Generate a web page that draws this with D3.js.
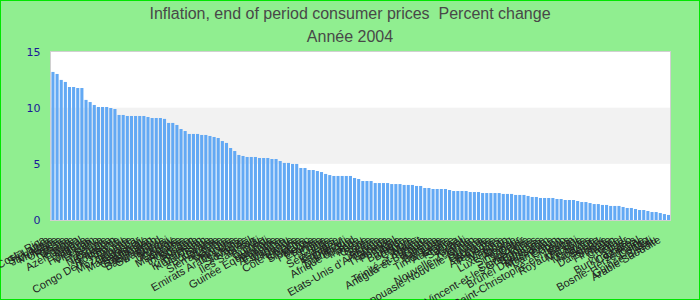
<!DOCTYPE html>
<html><head><meta charset="utf-8">
<script src="https://cdn.jsdelivr.net/npm/d3@7"></script>
<style>html,body{margin:0;padding:0;background:#90EE90;}svg{display:block;}</style>
</head><body>
<svg id="chart" width="700" height="300"></svg>
<script>
const titleText = "Inflation, end of period consumer prices  Percent change";
const subtitleText = "Année 2004";
const yTicks = [0, 5, 10, 15];
const countries = [
"Costa Rica","Sri Lanka","Jamaïque","Moldavie","Ukraine","Russie","Ghana","Egypte","Azerbaïdjan","Népal",
"Nigeria","Honduras","Viet Nam","Lesotho","Kenya","Tanzanie","Nicaragua","Pakistan","Roumanie","Congo Dém. Rép. du",
"Turquie","Mozambique","Ouganda","Madagascar","Paraguay","Guatemala","Tadjikistan","Bangladesh","Swaziland","Bolivie",
"Malawi","Uruguay","Géorgie","Mauritanie","Arménie","Indonésie","Soudan","Rwanda","Kirghizistan","Kazakhstan",
"Tonga","Botswana","Namibie","Sierra Leone","Gambie","Mexique","Hongrie","Emirats Arabes Unis","Lettonie","Slovaquie",
"Brésil","Iles Salomon","Fidji","Guinée","Burundi","Guinée Equatoriale","Ethiopie","Argentine","Colombie","Vanuatu",
"Islande","Côte d'Ivoire","Lituanie","Slovénie","Maroc","Pologne","Estonie","Tunisie","Chine","Inde",
"Seychelles","Espagne","Equateur","Djibouti","Dominique","Afrique du Sud","Irlande","Pérou","Grèce","Corée",
"Belize","Algérie","Etats-Unis d'Amérique","Canada","Thaïlande","Portugal","Italie","Barbade","Bahreïn","Chypre",
"Malte","Koweït","Trinité-et-Tobago","Antigua-et-Barbuda","Libéria","Panama","Belgique","Timor-Leste","Australie","France",
"Samoa","Israël","Kiribati","Nouvelle-Zélande","Oman","Papouasie-Nouvelle-Guinée","Guyana","Grenade","Autriche","Allemagne",
"Pays-Bas","Maurice","Liban","Luxembourg","Albanie","Singapour","Qatar","Jordanie","Sainte-Lucie","Saint-Vincent-et-les Grenadines",
"Bahamas","Suriname","Brunéi Darussalam","Macédoine","Cameroun","Gabon","Togo","Saint-Christophe-et-Niévès","Bénin","Royaume-Uni",
"Malaisie","Syrie","Maldives","Norvège","Suède","Danemark","Suisse","Finlande","Japon","Croatie",
"Tchad","Niger","Burkina Faso","Comores","Sénégal","Bosnie-Herzégovine","Congo","Mali","Guinée-Bissau","Arabie Saoudite"
];
const inflation = [
13.18,13.0,12.47,12.29,11.84,11.84,11.75,11.75,10.69,10.5,
10.24,10.06,10.06,10.06,9.97,9.88,9.35,9.35,9.26,9.26,
9.26,9.26,9.26,9.17,9.08,9.08,9.08,9.0,8.64,8.64,
8.46,8.1,7.92,7.66,7.66,7.66,7.57,7.57,7.48,7.39,
7.3,7.03,6.86,6.41,6.14,5.79,5.7,5.61,5.61,5.61,
5.52,5.52,5.52,5.43,5.43,5.25,5.08,5.08,4.99,4.99,
4.63,4.63,4.45,4.45,4.36,4.27,4.1,4.0,3.92,3.92,
3.92,3.92,3.92,3.74,3.65,3.47,3.47,3.47,3.29,3.29,
3.29,3.29,3.2,3.2,3.2,3.12,3.12,3.12,3.03,3.03,
2.85,2.85,2.76,2.76,2.76,2.76,2.67,2.58,2.58,2.58,
2.58,2.49,2.49,2.49,2.4,2.4,2.4,2.4,2.4,2.32,
2.32,2.32,2.23,2.23,2.23,2.14,2.05,2.05,1.96,1.96,
1.96,1.96,1.87,1.87,1.78,1.78,1.78,1.69,1.6,1.6,
1.51,1.42,1.42,1.34,1.34,1.25,1.25,1.25,1.16,1.07,
1.07,0.98,0.89,0.89,0.8,0.71,0.71,0.62,0.53,0.45
];

(function () {
const data = countries.map((c, i) => ({country: c, value: inflation[i]}));
const svg = d3.select("#chart");
const W = 700, H = 300;
const pl = 50.5, pr = 670.5, pt = 51.5, pb = 220;

svg.append("rect").attr("x", 0.5).attr("y", 0.5).attr("width", W - 1).attr("height", H - 1)
  .attr("fill", "#90EE90").attr("stroke", "#00e600").attr("stroke-width", 1);

const x = d3.scaleBand().domain(countries).range([pl + 0.5, pr]).paddingInner(0.25).paddingOuter(0.1);
const y = d3.scaleLinear().domain([0, 15]).range([pb, pt]);

svg.append("rect").attr("x", pl).attr("y", pt).attr("width", pr - pl).attr("height", pb - pt)
  .attr("fill", "#ffffff");
svg.append("rect").attr("x", pl).attr("y", y(10)).attr("width", pr - pl).attr("height", y(5) - y(10))
  .attr("fill", "#f2f2f2");

svg.append("g").selectAll("rect").data(data).join("rect")
  .attr("x", d => x(d.country))
  .attr("y", d => y(d.value))
  .attr("width", x.bandwidth())
  .attr("height", d => y(0) - y(d.value))
  .attr("fill", "#63a9f4");

svg.append("rect").attr("x", pl).attr("y", pt).attr("width", pr - pl).attr("height", pb - pt + 0.5)
  .attr("fill", "none").attr("stroke", "#d0d0d0").attr("stroke-width", 1);

const yAxis = d3.axisLeft(y).tickValues(yTicks).tickSize(0).tickPadding(10);
const gy = svg.append("g").attr("transform", `translate(${pl},0)`).call(yAxis);
gy.select(".domain").remove();
gy.selectAll("text").attr("fill", "#1a1a99").style("font-family", "DejaVu Sans").style("font-size", "11px");

const xAxis = d3.axisBottom(x).tickSize(0).tickPadding(0);
const gx = svg.append("g").attr("transform", `translate(0,${pb})`).call(xAxis);
gx.select(".domain").remove();
gx.selectAll("text")
  .attr("fill", "#222")
  .style("font-family", "Liberation Sans, Arial, sans-serif")
  .style("font-size", "11px")
  .attr("text-anchor", "end")
  .attr("dy", null)
  .attr("y", null)
  .attr("transform", "translate(-7,22) rotate(-30)");

svg.append("text").attr("x", W / 2).attr("y", 19).attr("text-anchor", "middle")
  .attr("fill", "#484848").style("font-family", "Liberation Sans, Arial, sans-serif").style("font-size", "16px")
  .style("white-space", "pre").attr("xml:space", "preserve")
  .text(titleText);
svg.append("text").attr("x", W / 2).attr("y", 42).attr("text-anchor", "middle")
  .attr("fill", "#484848").style("font-family", "Liberation Sans, Arial, sans-serif").style("font-size", "16px")
  .text(subtitleText);
})();
</script>
</body></html>
